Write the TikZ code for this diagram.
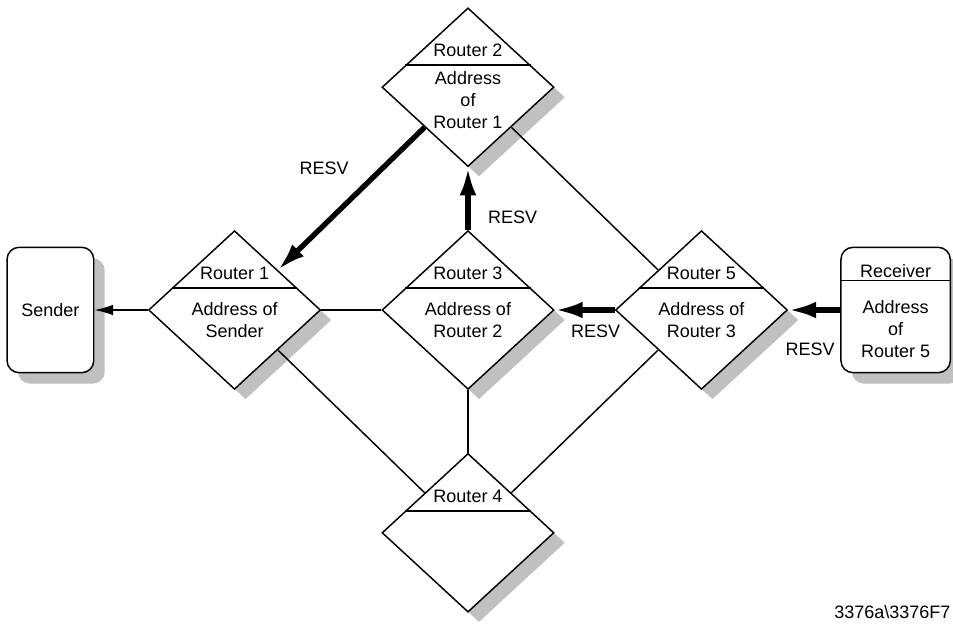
\documentclass[tikz,border=0pt]{standalone}
\usepackage{fontspec}
\setmainfont{Liberation Sans}
\usetikzlibrary{arrows.meta,positioning,calc,shapes.geometric,shadows}
\definecolor{shadowgray}{RGB}{192,192,192}

\begin{document}
\begin{tikzpicture}[
  x=0.75pt, y=-0.75pt,
  every node/.style={font=\fontsize{13.5}{16.5}\selectfont},
  router/.style={diamond, draw, line width=1.1pt, fill=white,
    minimum width=129pt, minimum height=119pt, inner sep=0pt,
    general shadow={fill=shadowgray, shadow xshift=8.25pt, shadow yshift=-7.5pt}},
  endbox/.style={draw, line width=1.1pt, rounded corners=9pt, fill=white,
    minimum height=94pt, inner sep=0pt,
    general shadow={fill=shadowgray, shadow xshift=8.25pt, shadow yshift=-8.25pt}},
  link/.style={line width=1.1pt},
  arr/.style={-{Latex[length=21pt,width=12.5pt]}, line width=4pt},
  thinarr/.style={-{Latex[length=14pt,width=8pt]}, line width=1.1pt},
  lbl/.style={inner sep=1pt}
]
\useasboundingbox (0,0) rectangle (953,624);

\node[router] (r3) at (468,310) {};
\node[router, left=45pt of r3] (r1) {};
\node[router, right=45pt of r3] (r5) {};
\node[router, above=47pt of r3] (r2) {};
\node[router, below=47pt of r3] (r4) {};
\node[endbox, minimum width=65pt, left=40pt of r1] (sender) {Sender};
\node[endbox, minimum width=82pt, right=39pt of r5] (recv) {};

% dividers
\draw[link] ($(r1.west)!0.275!(r1.north)$) -- ($(r1.east)!0.275!(r1.north)$);
\draw[link] ($(r2.west)!0.275!(r2.north)$) -- ($(r2.east)!0.275!(r2.north)$);
\draw[link] ($(r3.west)!0.275!(r3.north)$) -- ($(r3.east)!0.275!(r3.north)$);
\draw[link] ($(r4.west)!0.275!(r4.north)$) -- ($(r4.east)!0.275!(r4.north)$);
\draw[link] ($(r5.west)!0.275!(r5.north)$) -- ($(r5.east)!0.275!(r5.north)$);
\draw[link] ($(recv.north west)+(0,34)$) -- ($(recv.north east)+(0,34)$);

% texts
\node (t1) at ($(r1)+(0,-37)$) {Router 1};
\node (t2) at ($(r2)+(0,-37)$) {Router 2};
\node (t3) at ($(r3)+(0,-37)$) {Router 3};
\node (t4) at ($(r4)+(0,-36)$) {Router 4};
\node (t5) at ($(r5)+(0,-37)$) {Router 5};
\node (t6) at ($(recv)+(0,-39)$) {Receiver};
\node[align=center] (a1) at ($(r1)+(0,10)$) {Address of\\Sender};
\node[align=center] (a2) at ($(r2)+(0,13)$) {Address\\of\\Router 1};
\node[align=center] (a3) at ($(r3)+(0,10)$) {Address of\\Router 2};
\node[align=center] (a5) at ($(r5)+(0,10)$) {Address of\\Router 3};
\node[align=center] (a6) at ($(recv)+(0,19)$) {Address\\of\\Router 5};

% links
\draw[link] (r1.east) -- (r3.west);
\draw[link] (r3.south) -- (r4.north);
\draw[link] ($(r1.east)!0.5!(r1.south)$) -- ($(r4.west)!0.5!(r4.north)$);
\draw[link] ($(r5.west)!0.5!(r5.south)$) -- ($(r4.east)!0.5!(r4.north)$);
\draw[link] ($(r2.east)!0.5!(r2.south)$) -- ($(r5.west)!0.5!(r5.north)$);

% RESV path
\draw[arr] (recv.west) -- (r5.east) node[lbl, pos=0.58, below=22pt] {RESV};
\draw[arr] (r5.west) -- (r3.east) node[lbl, pos=0.32, below=8pt] {RESV};
\draw[arr] (r3.north) -- (r2.south) node[lbl, pos=0.2, right=12pt] {RESV};
\draw[arr] ($(r2.west)!0.5!(r2.south)$) -- ($(r1.east)!0.5!(r1.north)$)
  node[lbl, pos=0.29, left=22pt] {RESV};
\draw[thinarr] (r1.west) -- (sender.east);

\node[anchor=east, inner sep=1pt] (ref) at (952,612) {3376a\textbackslash 3376F7};
\end{tikzpicture}
\end{document}
